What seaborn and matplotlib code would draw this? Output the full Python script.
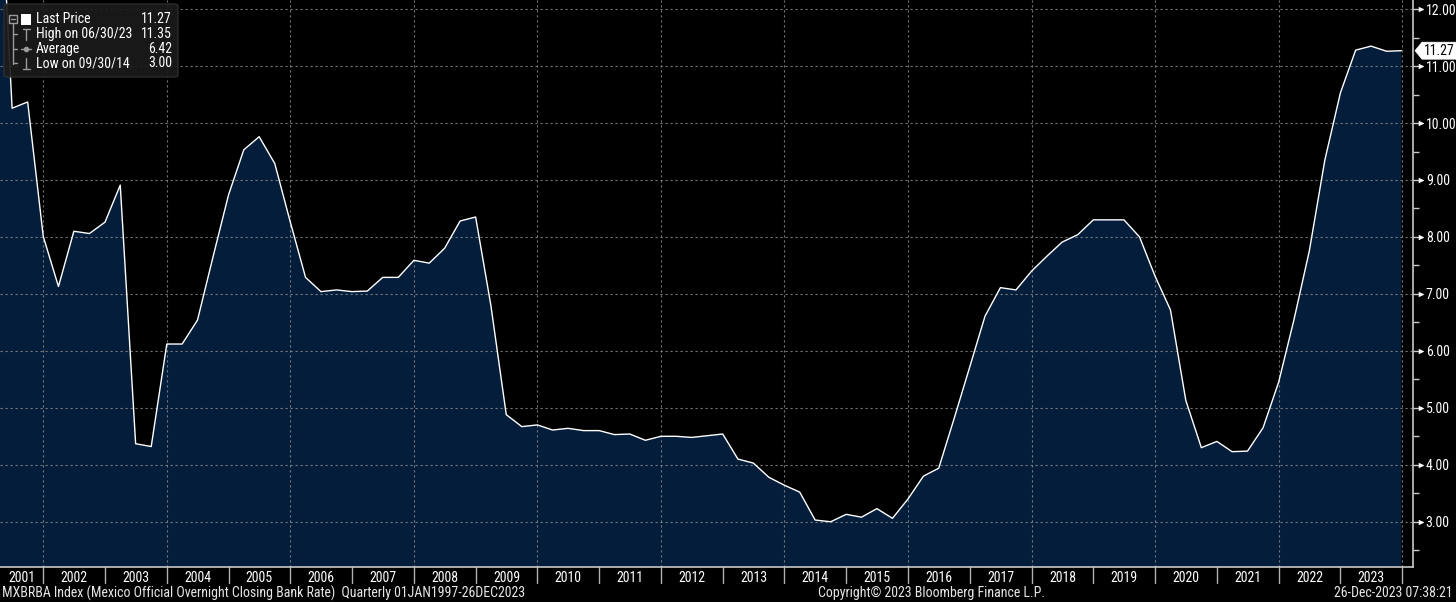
import pandas as pd
import numpy as np
import matplotlib
matplotlib.use("Agg")
import matplotlib.pyplot as plt
import matplotlib.transforms as mtransforms
from matplotlib import font_manager as fm
from matplotlib.patches import FancyBboxPatch, Rectangle, Polygon
from matplotlib.lines import Line2D
import seaborn as sns

# quarterly closing rate, Q1 2001 .. Q4 2023 (last point 26-Dec-2023)
quarter_ends = pd.date_range("2001-03-31", "2023-12-31", freq="QE")
rates = [
    15.50, 10.26, 10.37, 8.01,
    7.13, 8.10, 8.06, 8.26,
    8.91, 4.37, 4.32, 6.12,
    6.12, 6.54, 7.65, 8.74,
    9.53, 9.76, 9.29, 8.26,
    7.29, 7.04, 7.07, 7.04,
    7.05, 7.29, 7.29, 7.59,
    7.54, 7.80, 8.28, 8.35,
    6.80, 4.88, 4.67, 4.70,
    4.61, 4.64, 4.60, 4.60,
    4.53, 4.54, 4.43, 4.50,
    4.50, 4.48, 4.51, 4.54,
    4.10, 4.03, 3.78, 3.64,
    3.52, 3.03, 3.00, 3.13,
    3.08, 3.23, 3.06, 3.40,
    3.80, 3.94, 4.82, 5.72,
    6.61, 7.11, 7.07, 7.40,
    7.66, 7.91, 8.04, 8.30,
    8.30, 8.30, 8.00, 7.31,
    6.72, 5.13, 4.30, 4.41,
    4.23, 4.24, 4.65, 5.45,
    6.54, 7.75, 9.35, 10.53,
    11.28, 11.35, 11.26, 11.27,
]
year_labels = list(range(2001, 2024))
y_ticks = list(range(3, 13))

legend_rows = [("Last Price", "11.27"), ("High on 06/30/23", "11.35"),
               ("Average", "6.42"), ("Low on 09/30/14", "3.00")]
footer_left = "MXBRBA Index (Mexico Official Overnight Closing Bank Rate)  Quarterly 01JAN1997-26DEC2023"
footer_mid = "Copyright\u00a9 2023 Bloomberg Finance L.P."
footer_right = "26-Dec-2023 07:38:21"

dates = list(quarter_ends[:-1]) + [pd.Timestamp("2023-12-26")]
df = pd.DataFrame({"date": dates, "rate": rates})
df["year"] = [d.year + d.dayofyear / (366 if d.is_leap_year else 365) for d in df["date"]]

sns.set_style("dark")

# narrow font if one is installed, else condensed DejaVu
fonts = fm.fontManager.ttflist
names = {f.name for f in fonts}
font, stretch, fsize = "DejaVu Sans", "normal", 9
for cand in ["Liberation Sans Narrow", "Roboto Condensed", "Open Sans Condensed"]:
    if cand in names:
        font, stretch, fsize = cand, "normal", 10
        break
else:
    if any(f.name == "DejaVu Sans" and f.stretch == "condensed" for f in fonts):
        stretch = "condensed"
plt.rcParams["font.family"] = [font, "DejaVu Sans"]
plt.rcParams["font.stretch"] = stretch

W, H = 1456, 602
fig = plt.figure(figsize=(W / 100, H / 100), dpi=100, facecolor="black")
ax_right, ax_bottom = 1413.3, 567.3
ax = fig.add_axes([0, (H - ax_bottom) / H, ax_right / W, ax_bottom / H])
ax.set_facecolor("black")

fill_col = "#031d3a"
ax.fill_between(df["year"], df["rate"], 0, color=fill_col, lw=0, zorder=1)
sns.lineplot(data=df, x="year", y="rate", color="white", lw=1.0, ax=ax, zorder=3)

x0, x1 = 2001.30, 2024.18
ax.set_xlim(x0, x1)
ax.set_ylim(2.20, 12.16)

# grid
grid_kw = dict(color="#8a8a8a", lw=0.8, ls=(0, (2, 2.5)), alpha=0.85, zorder=2)
for v in y_ticks:
    ax.axhline(v, **grid_kw)
for yr in range(2002, 2025, 2):
    ax.axvline(yr, **grid_kw)
ax.grid(False)

# spines
for s in ["top", "left"]:
    ax.spines[s].set_visible(False)
for s in ["right", "bottom"]:
    ax.spines[s].set_color("#c8c8c8")
    ax.spines[s].set_linewidth(1.2)

# right axis
ax.yaxis.tick_right()
ax.set_yticks(y_ticks)
ax.set_yticklabels([f"{v:.2f}" for v in y_ticks])
ax.set_yticks(np.arange(2.5, 12.5, 1.0), minor=True)
ax.tick_params(axis="y", which="major", length=7, width=1, color="#c8c8c8",
               labelcolor="white", labelsize=fsize, pad=2)
ax.tick_params(axis="y", which="minor", length=4, width=1, color="#c8c8c8")
ax.set_xticks([])
ax.set_xlabel("")
ax.set_ylabel("")
tr_ax = mtransforms.blended_transform_factory(ax.transAxes, ax.transData)
ax.scatter([1.0053] * len(y_ticks), y_ticks, marker=">", s=16, color="white",
           transform=tr_ax, clip_on=False, zorder=5, lw=0)

# last price tag (pentagon pointing at the axis)
last = df["rate"].iloc[-1]
ty = H - ax.transData.transform((x0, last))[1] * 0 - 0  # placeholder for clarity
ty_disp = ax.transData.transform((x0, last))[1]
tag = [(1415, ty_disp), (1422, ty_disp + 8.5), (1456, ty_disp + 8.5),
       (1456, ty_disp - 8.5), (1422, ty_disp - 8.5)]
fig.add_artist(Polygon(tag, closed=True, transform=None, fc="white", ec="white", lw=0.5))
fig.text(1439 / W, ty_disp / H, f"{last:.2f}", ha="center", va="center",
         color="black", fontsize=fsize)

# bottom year strip
tr_x = mtransforms.blended_transform_factory(ax.transData, ax.transAxes)
sep_h = 16 / ax_bottom
for yr in range(2002, 2025):
    ax.plot([yr, yr], [0, -sep_h], color="#b0b0b0", lw=1, transform=tr_x, clip_on=False)
for yr in year_labels:
    lo, hi = max(yr, x0), min(yr + 1, 2024)
    ax.text((lo + hi) / 2, -11 / ax_bottom, str(yr), transform=tr_x, ha="center",
            va="center", color="white", fontsize=fsize, clip_on=False)

# footer
def fx(x):
    return x / W

def fy(y):
    return 1 - y / H

fig.text(fx(2), fy(593), footer_left, ha="left", va="center", color="#e6e6e6", fontsize=fsize)
fig.text(fx(818), fy(593), footer_mid, ha="left", va="center", color="#e6e6e6", fontsize=fsize)
fig.text(fx(1453), fy(593), footer_right, ha="right", va="center", color="#e6e6e6", fontsize=fsize)

# legend box (Bloomberg style)
box = FancyBboxPatch((fx(4), fy(77)), fx(174), 73 / H, boxstyle="round,pad=0,rounding_size=0.003",
                     transform=fig.transFigure, fc="#1b1b1b", ec="#2e2e2e", lw=1, alpha=0.92)
fig.add_artist(box)
row_y = [19.3, 34, 49, 63.3]
for (lab, val), ry in zip(legend_rows, row_y):
    fig.text(fx(35.5), fy(ry), lab, ha="left", va="center", color="white", fontsize=fsize)
    fig.text(fx(172), fy(ry), val, ha="right", va="center", color="white", fontsize=fsize)

lc = "#9a9a9a"
def seg(xa, ya, xb, yb, c=lc, lw=1):
    fig.add_artist(Line2D([fx(xa), fx(xb)], [fy(ya), fy(yb)], color=c, lw=lw,
                          transform=fig.transFigure))

# tree lines
fig.add_artist(Rectangle((fx(9), fy(23)), fx(8), 8 / H, transform=fig.transFigure,
                         fc="none", ec=lc, lw=1))
seg(11, 19, 15, 19)
seg(13, 23, 13, 63.5)
for ry in row_y[1:]:
    seg(13, ry, 17, ry)
# white square
fig.add_artist(Rectangle((fx(20.7), fy(24.5)), fx(10), 11 / H, transform=fig.transFigure,
                         fc="white", ec="white", lw=0))
# high icon
seg(22.5, 29, 29.5, 29)
seg(26, 29, 26, 39.5)
# average icon
seg(21, 49, 31, 49)
fig.add_artist(Line2D([fx(26)], [fy(49)], marker="o", ms=3, color=lc, transform=fig.transFigure))
# low icon
seg(26, 58, 26, 68.5)
seg(22.5, 68.5, 29.5, 68.5)

fig.savefig("out.png", dpi=100, facecolor="black")
